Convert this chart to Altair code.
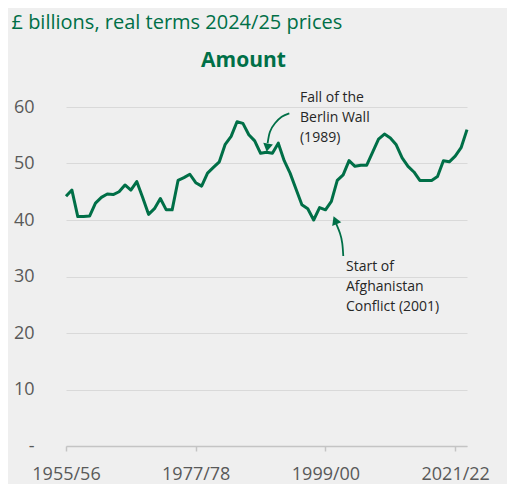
import altair as alt
import pandas as pd

# ---- data ----
start_year = 1955
amount = [44.2, 45.3, 40.6, 40.6, 40.7, 43.0, 44.0, 44.6, 44.5, 45.0,
          46.2, 45.3, 46.8, 44.0, 41.0, 42.0, 43.8, 41.8, 41.8, 47.0,
          47.5, 48.1, 46.6, 46.0, 48.3, 49.3, 50.3, 53.4, 54.8, 57.4,
          57.1, 55.1, 54.0, 51.8, 52.0, 51.8, 53.6, 50.5, 48.3, 45.5,
          42.7, 42.0, 40.0, 42.2, 41.8, 43.3, 47.0, 48.0, 50.5, 49.5,
          49.7, 49.7, 52.0, 54.3, 55.2, 54.5, 53.3, 51.0, 49.5, 48.5,
          47.0, 47.0, 47.0, 47.7, 50.5, 50.3, 51.3, 52.8, 56.0]
year_labels = [f"{start_year + i}/{str(start_year + i + 1)[-2:]}" for i in range(len(amount))]
tick_years = ["1955/56", "1977/78", "1999/00", "2021/22"]
y_ticks = [0, 10, 20, 30, 40, 50, 60]

# annotations (positions in data units: year index, £bn)
note_text = ["Fall of the\nBerlin Wall\n(1989)", "Start of\nAfghanistan\nConflict (2001)"]
note_idx = [39.68, 47.48]
note_val = [60.83, 30.97]

berlin_idx = [37.87, 36.58, 35.44, 34.59, 34.19]
berlin_val = [58.88, 58.28, 57.12, 55.63, 53.6]
afghan_idx = [47.02, 46.85, 46.46, 45.90, 45.73]
afghan_val = [33.63, 35.88, 37.65, 39.12, 39.6]
head_idx = [34.19, 45.73]
head_val = [53.04, 39.73]
head_angle = [190, 338]

GREEN = "#006f47"
FONT = "Open Sans"

df = pd.DataFrame({"idx": list(range(len(amount))), "value": amount, "year": year_labels})
notes = pd.DataFrame({"idx": note_idx, "value": note_val, "label": note_text})
arrows = pd.concat([
    pd.DataFrame({"idx": berlin_idx, "value": berlin_val, "grp": "b", "ord": range(5)}),
    pd.DataFrame({"idx": afghan_idx, "value": afghan_val, "grp": "a", "ord": range(5)}),
])
heads = pd.DataFrame({"idx": head_idx, "value": head_val, "ang": head_angle})

x_scale = alt.Scale(domain=[0, len(amount) - 1], nice=False, zero=False)
y_scale = alt.Scale(domain=[0, 60], nice=False)

label_array = "[" + ",".join(f"'{s}'" for s in year_labels) + "]"
tick_vals = [year_labels.index(t) for t in tick_years]

y_axis = alt.Axis(
    values=y_ticks, grid=True, gridColor="#d9d9d9", gridWidth=1,
    domain=False, ticks=False, labelPadding=32, labelFontSize=18,
    labelColor="#595959", labelFont=FONT,
    labelExpr="datum.value == 0 ? '-' : datum.label",
    title="£ billions, real terms 2024/25 prices", titleAngle=0,
    titleX=-55, titleY=-79, titleAlign="left", titleBaseline="alphabetic",
    titleFontSize=20, titleFontWeight="normal", titleColor=GREEN, titleFont=FONT,
)

x_axis = alt.Axis(
    values=tick_vals, labelExpr=label_array + "[datum.value]", labelFlush=False,
    grid=False, domainColor="#c4c4c4", domainWidth=1.5,
    tickColor="#c4c4c4", tickSize=5, tickWidth=1.5, labelPadding=14,
    labelFontSize=18, labelColor="#595959", labelFont=FONT, title=None,
)

top_axis = alt.Axis(
    orient="top", values=[], domain=False, ticks=False, labels=False, grid=False,
    title="Amount", titleX=177, titleY=-40.3, titleAlign="center",
    titleBaseline="alphabetic", titleFontSize=21, titleFontWeight="bold",
    titleColor=GREEN, titleFont=FONT,
)

line = alt.Chart(df).mark_line(color=GREEN, strokeWidth=3, strokeJoin="round").encode(
    x=alt.X("idx:Q", scale=x_scale, axis=x_axis),
    y=alt.Y("value:Q", scale=y_scale, axis=y_axis),
)

text = alt.Chart(notes).mark_text(
    align="left", baseline="alphabetic", font=FONT, fontSize=14,
    color="#262626", lineBreak="\n", lineHeight=20,
).encode(
    x=alt.X("idx:Q", scale=x_scale, axis=top_axis),
    y=alt.Y("value:Q", scale=y_scale, axis=y_axis),
    text="label:N",
)

arrow_lines = alt.Chart(arrows).mark_line(
    color=GREEN, strokeWidth=1.8, interpolate="natural"
).encode(
    x=alt.X("idx:Q", scale=x_scale, axis=None),
    y=alt.Y("value:Q", scale=y_scale, axis=y_axis),
    detail="grp:N",
    order="ord:Q",
)

arrow_heads = alt.Chart(heads).mark_point(
    shape="triangle", filled=True, color=GREEN, size=95, opacity=1
).encode(
    x=alt.X("idx:Q", scale=x_scale, axis=None),
    y=alt.Y("value:Q", scale=y_scale, axis=y_axis),
    angle=alt.Angle("ang:Q", scale=None),
)

chart = alt.layer(line, arrow_lines, arrow_heads, text).resolve_axis(
    x="independent"
).properties(
    width=401, height=339,
    autosize=alt.AutoSizeParams(type="none"),
    padding={"left": 58, "top": 99, "right": 40, "bottom": 38},
    background="#efefef",
).configure_view(stroke=None)

chart.save("out.html", embed_options={"renderer": "svg", "actions": False})
